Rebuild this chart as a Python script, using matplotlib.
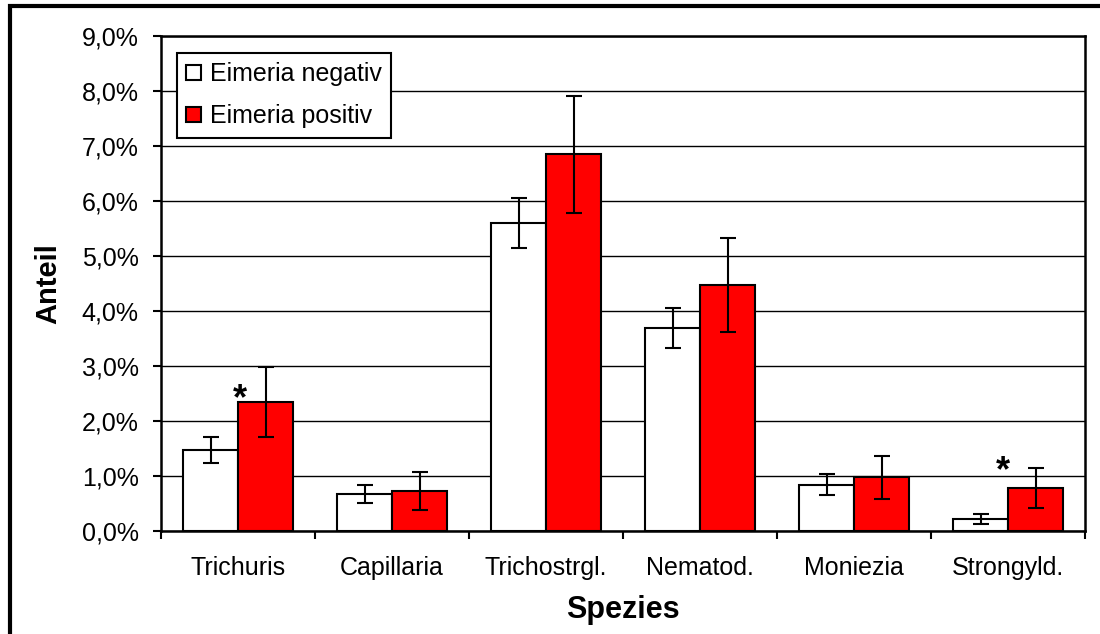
import matplotlib
matplotlib.use("Agg")
import matplotlib.pyplot as plt
from matplotlib.patches import Rectangle
from matplotlib.ticker import FuncFormatter, FixedLocator
import numpy as np

plt.rcParams['font.family'] = ['Liberation Sans', 'DejaVu Sans']

# Species and prevalence (%) with error margins
species = ["Trichuris", "Capillaria", "Trichostrgl.", "Nematod.", "Moniezia", "Strongyld."]
neg_vals = [1.47, 0.67, 5.60, 3.69, 0.84, 0.22]
neg_err = [0.24, 0.17, 0.45, 0.37, 0.19, 0.09]
pos_vals = [2.34, 0.73, 6.85, 4.47, 0.98, 0.78]
pos_err = [0.64, 0.35, 1.06, 0.86, 0.39, 0.37]
series_names = ["Eimeria negativ", "Eimeria positiv"]

# Significance markers: x position (category units) and label baseline height (%)
star_x = [0.01, 4.97]
star_base = [2.22, 0.90]

fig = plt.figure(figsize=(11, 6.34), dpi=100)
ax = fig.add_axes([0.1464, 0.1625, 0.8400, 0.7807])

x = np.arange(len(species))
w = 0.357
err_kw = dict(ecolor="black", elinewidth=1.5, capsize=5.5, capthick=1.5)
b1 = ax.bar(x - w / 2, neg_vals, w, yerr=neg_err, color="white", edgecolor="black",
            linewidth=1.5, error_kw=err_kw, zorder=3, label=series_names[0])
b2 = ax.bar(x + w / 2, pos_vals, w, yerr=pos_err, color="#ff0000", edgecolor="black",
            linewidth=1.5, error_kw=err_kw, zorder=3, label=series_names[1])

for xs, yb in zip(star_x, star_base):
    ax.text(xs, yb, "*", ha="center", va="baseline", fontsize=26, fontweight="bold", zorder=5)

ax.set_xlim(-0.5, len(species) - 0.5)
ax.set_ylim(0, 9)
ax.set_yticks(np.arange(0, 10, 1))
ax.yaxis.set_major_formatter(FuncFormatter(lambda v, p: f"{v:.1f}%".replace(".", ",")))
ax.grid(axis="y", color="black", linewidth=1.0, zorder=0)

ax.xaxis.set_major_locator(FixedLocator(np.arange(-0.5, len(species), 1)))
ax.xaxis.set_minor_locator(FixedLocator(x))
ax.set_xticklabels([""] * (len(species) + 1))
ax.set_xticklabels(species, minor=True)
ax.tick_params(axis="x", which="major", length=6, width=1.5, direction="out")
ax.tick_params(axis="x", which="minor", length=0, pad=18, labelsize=18)
ax.tick_params(axis="y", length=6, width=1.5, direction="out", pad=10, labelsize=18)

for s in ax.spines.values():
    s.set_linewidth(1.8)
    s.set_color("black")

ax.set_ylabel("Anteil", fontsize=21, fontweight="bold", labelpad=14)
ax.set_xlabel("Spezies", fontsize=22, fontweight="bold", labelpad=11)

leg = ax.legend(loc="upper left", bbox_to_anchor=(0.017, 0.966), fontsize=18,
                fancybox=False, framealpha=1, edgecolor="black", handlelength=0.6,
                handleheight=0.6, handletextpad=0.35, labelspacing=0.72,
                borderpad=0.38, borderaxespad=0)
leg.get_frame().set_linewidth(1.5)
leg.set_zorder(6)

# Outer chart border (top and left edges visible)
fig.add_artist(Rectangle((10 / 1100, -0.2), 1.5, 0.2 + (634 - 6) / 634,
                         transform=fig.transFigure, fill=False, edgecolor="black",
                         linewidth=3, clip_on=False))

fig.savefig("out.png", dpi=100)
